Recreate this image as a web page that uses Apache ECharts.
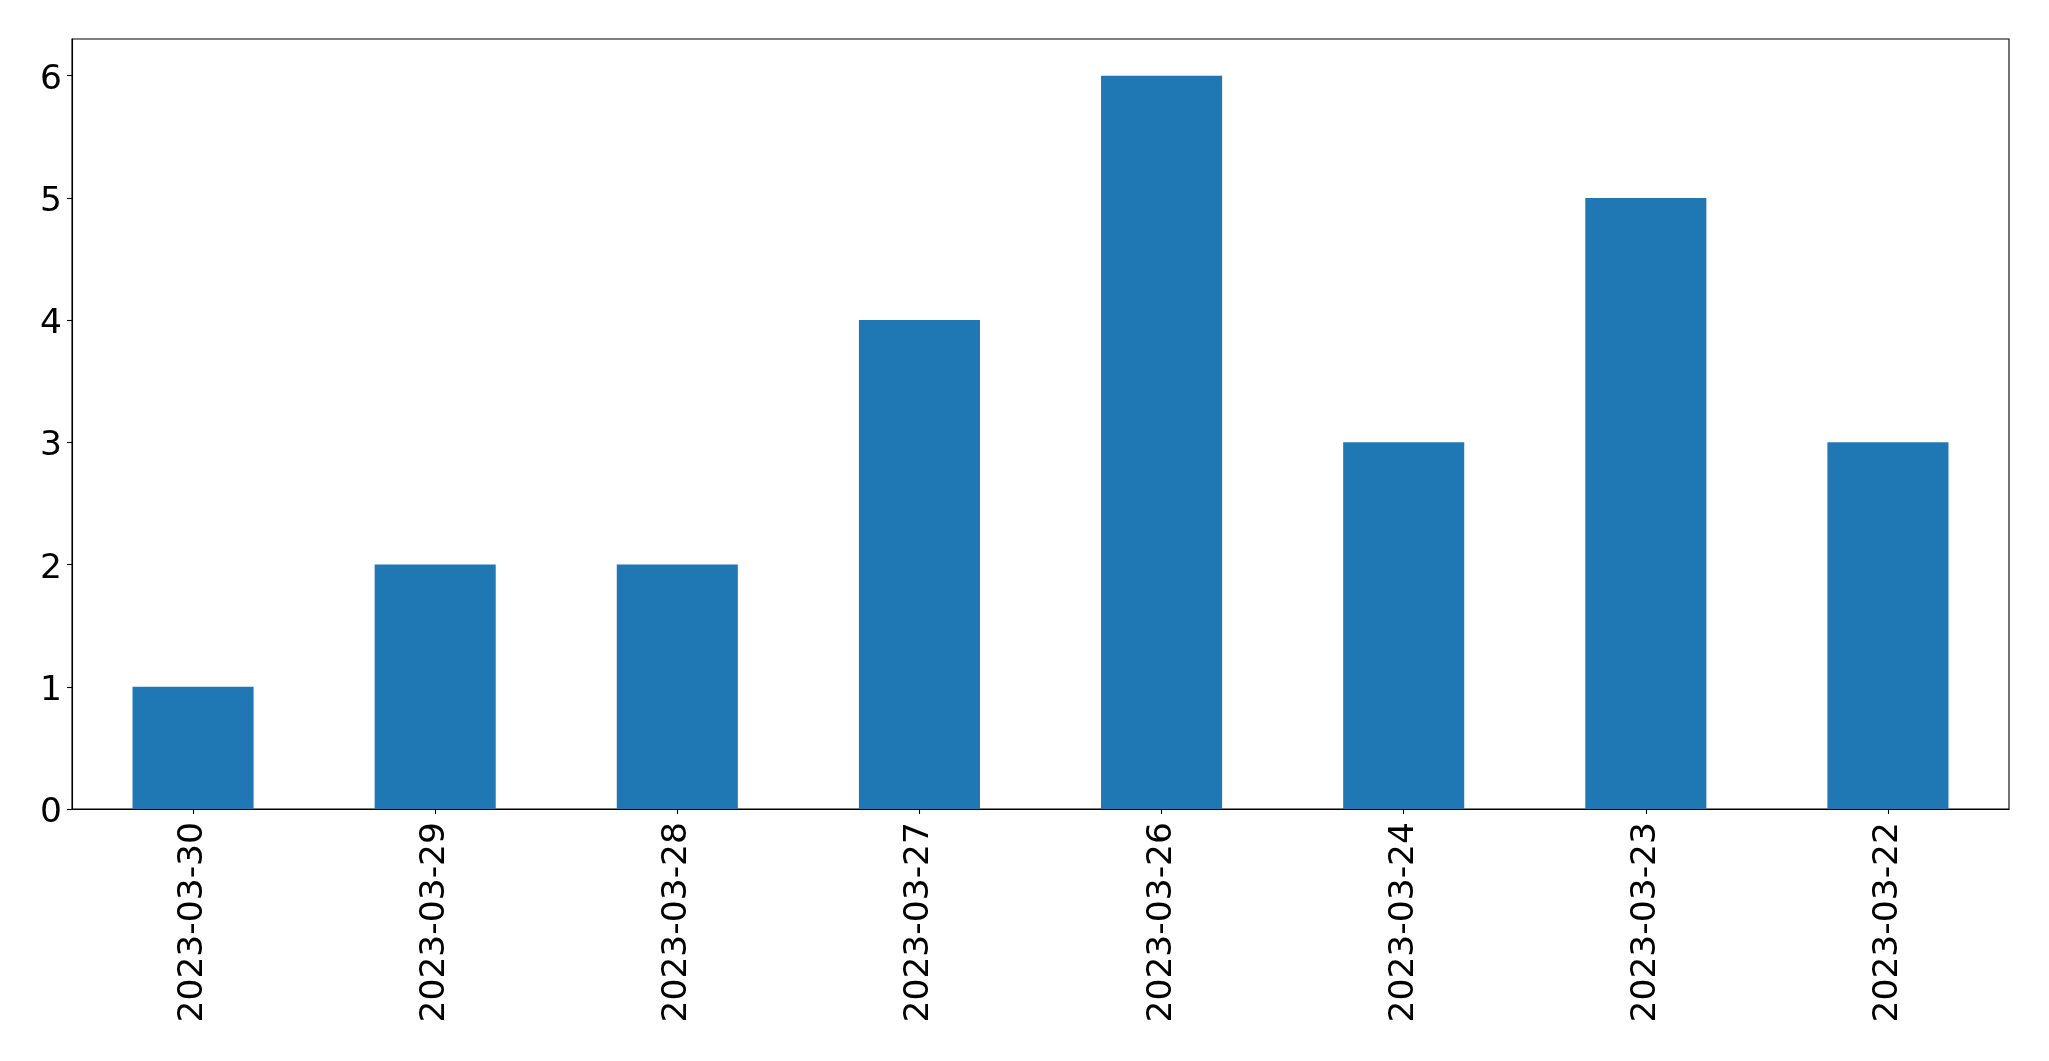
<!DOCTYPE html>
<html>
<head>
<meta charset="utf-8">
<script src="https://cdn.jsdelivr.net/npm/echarts@6/dist/echarts.min.js"></script>
<style>
html,body{margin:0;padding:0;background:#fff;}
#chart{width:2049px;height:1061px;}
</style>
</head>
<body>
<div id="chart"></div>
<script>
const categories = ["2023-03-30","2023-03-29","2023-03-28","2023-03-27","2023-03-26","2023-03-24","2023-03-23","2023-03-22"];
const values = [1, 2, 2, 4, 6, 3, 5, 3];
const yTicks = [0, 1, 2, 3, 4, 5, 6];

const chart = echarts.init(document.getElementById('chart'), null, {renderer: 'canvas'});
const font = 'DejaVu Sans';
chart.setOption({
  animation: false,
  backgroundColor: '#ffffff',
  grid: {
    left: 72, top: 39, right: 40, bottom: 252,
    show: true, borderColor: '#000000', borderWidth: 1.1, backgroundColor: 'transparent'
  },
  xAxis: {
    type: 'category',
    data: categories,
    boundaryGap: true,
    axisLine: {show: true, lineStyle: {color: '#000', width: 1.1}},
    axisTick: {show: true, alignWithLabel: true, length: 5, lineStyle: {color: '#000', width: 1.1}},
    axisLabel: {
      rotate: 90, interval: 0, margin: 13,
      fontFamily: font, fontSize: 34.5, color: '#000'
    },
    splitLine: {show: false}
  },
  yAxis: {
    type: 'value',
    min: 0, max: 6.3,
    axisLine: {show: true, lineStyle: {color: '#000', width: 1.1}},
    axisTick: {show: true, length: 5, customValues: yTicks, lineStyle: {color: '#000', width: 1.1}},
    axisLabel: {
      customValues: yTicks, margin: 10,
      formatter: function (v) { return '{a|' + v + '}'; },
      rich: {a: {fontFamily: font, fontSize: 34.5, color: '#000', padding: [8, 0, 0, 0]}},
      fontFamily: font, fontSize: 34.5, color: '#000'
    },
    splitLine: {show: false}
  },
  series: [{
    type: 'bar',
    data: values,
    barWidth: '50%',
    itemStyle: {color: '#1f77b4'}
  }]
});
</script>
</body>
</html>
